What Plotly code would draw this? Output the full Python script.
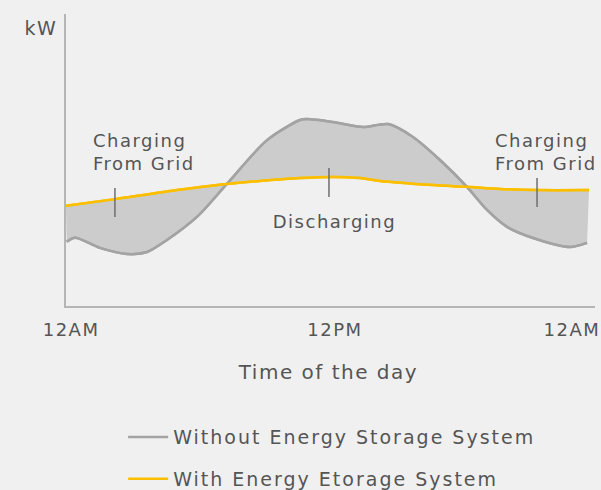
import plotly.graph_objects as go

# --- data (hours of day, relative kW) ---
hours_without = [0.03, 0.41, 1.54, 2.77, 3.68, 4.58, 5.94, 7.30, 9.12, 10.62, 10.93,
                 12.11, 13.48, 14.61, 15.74, 16.97, 18.19, 19.10, 20.01, 21.19, 22.87, 23.64]
kw_without = [2.20, 2.34, 1.99, 1.78, 1.85, 2.26, 3.05, 4.18, 5.68, 6.37, 6.40,
              6.30, 6.13, 6.23, 5.79, 5.00, 4.08, 3.29, 2.71, 2.33, 2.02, 2.16]

hours_with = [0.0, 2.22, 4.72, 7.30, 10.62, 12.11, 13.34, 14.25, 16.65, 18.19, 19.69, 21.37, 23.73]
kw_with = [3.43, 3.66, 3.94, 4.18, 4.38, 4.42, 4.38, 4.28, 4.14, 4.08, 4.01, 3.97, 3.97]

tick_hours = [0.23, 12.2, 22.95]
tick_labels = ["12AM", "12PM", "12AM"]

label_texts = ["Charging<br>From Grid", "Discharging", "Charging<br>From Grid"]
label_hours = [3.22, 12.16, 21.46]
label_kw = [5.27, 2.91, 5.27]
label_align = ["left", "center", "left"]

marker_hours = [2.22, 11.93, 21.37]
marker_kw_low = [3.05, 3.73, 3.39]
marker_kw_high = [4.04, 4.73, 4.38]

series_names = ["Without Energy Storage System", "With Energy Etorage System"]

GRAY = "#a3a3a3"
YELLOW = "#fcbf00"
FILL = "#cbcccb"
TEXT = "#555555"
BG = "#f0f0f0"
FONT = "DejaVu Sans"
LINE_KW = dict(width=2.5, shape="spline", smoothing=0.8)

fig = go.Figure()

# base (yellow) for the fill
fig.add_trace(go.Scatter(
    x=hours_with, y=kw_with, mode="lines", showlegend=False,
    line=dict(color=YELLOW, **LINE_KW), hoverinfo="skip"))

# shaded difference between the two profiles
fig.add_trace(go.Scatter(
    x=hours_without, y=kw_without, mode="lines", showlegend=False,
    line=dict(color=GRAY, **LINE_KW), fill="tonexty", fillcolor=FILL,
    hoverinfo="skip"))

# lines on top (with legend)
fig.add_trace(go.Scatter(
    x=hours_without, y=kw_without, mode="lines", name=series_names[0],
    line=dict(color=GRAY, **LINE_KW), legendgroup="a", legendrank=1,
    hoverinfo="skip"))
fig.add_trace(go.Scatter(
    x=hours_with, y=kw_with, mode="lines", name=series_names[1],
    line=dict(color=YELLOW, **LINE_KW), legendgroup="b", legendrank=2,
    hoverinfo="skip"))

shapes = []
for xh, y0, y1 in zip(marker_hours, marker_kw_low, marker_kw_high):
    shapes.append(dict(type="line", xref="x", yref="y", x0=xh, x1=xh, y0=y0, y1=y1,
                       line=dict(color="#6e6e6e", width=1.5)))

annotations = []
for t, xh, yk, al in zip(label_texts, label_hours, label_kw, label_align):
    annotations.append(dict(text=t, x=xh, y=yk, xref="x", yref="y", showarrow=False,
                            font=dict(family=FONT, size=18, color=TEXT),
                            xanchor="center", yanchor="middle", align=al))

annotations.append(dict(text="kW", x=-0.047, y=0.952, xref="paper", yref="paper",
                        showarrow=False, xanchor="center", yanchor="middle",
                        font=dict(family=FONT, size=19, color=TEXT)))
annotations.append(dict(text="Time of the day", x=0.495, y=-0.226, xref="paper", yref="paper",
                        showarrow=False, xanchor="center", yanchor="middle",
                        font=dict(family=FONT, size=20, color=TEXT)))

fig.update_layout(
    width=601, height=490,
    margin=dict(l=66, r=6, t=14, b=184, autoexpand=False),
    paper_bgcolor=BG, plot_bgcolor=BG,
    font=dict(family=FONT, color=TEXT),
    shapes=shapes, annotations=annotations,
    showlegend=True,
    legend=dict(x=0.108, y=-0.384, xanchor="left", yanchor="top",
                orientation="v", traceorder="grouped", tracegroupgap=14,
                itemwidth=40,
                font=dict(family=FONT, size=19, color=TEXT),
                bgcolor="rgba(0,0,0,0)"),
    xaxis=dict(range=[0, 24], showgrid=False, zeroline=False, showline=True,
               linecolor="#b5b5b5", linewidth=2, tickvals=tick_hours, ticktext=tick_labels,
               ticks="", ticklabelstandoff=6, ticklabeloverflow="allow", automargin=False,
               tickfont=dict(family=FONT, size=18, color=TEXT), fixedrange=True),
    yaxis=dict(range=[0, 10], showgrid=False, zeroline=False, showline=True,
               linecolor="#b5b5b5", linewidth=2, showticklabels=False, ticks="",
               automargin=False, fixedrange=True),
)

post = """
document.body.style.margin = '0';
var gd = document.getElementById('{plot_id}');
gd.querySelectorAll('text').forEach(function (t) { t.style.letterSpacing = '1.5px'; });
gd.querySelectorAll('.legendtext').forEach(function (t) { t.style.letterSpacing = '2px'; });
gd.querySelectorAll('.legend [clip-path]').forEach(function (e) { e.removeAttribute('clip-path'); });
"""

fig.write_html("out.html", post_script=post, config={"displayModeBar": False, "staticPlot": True})
